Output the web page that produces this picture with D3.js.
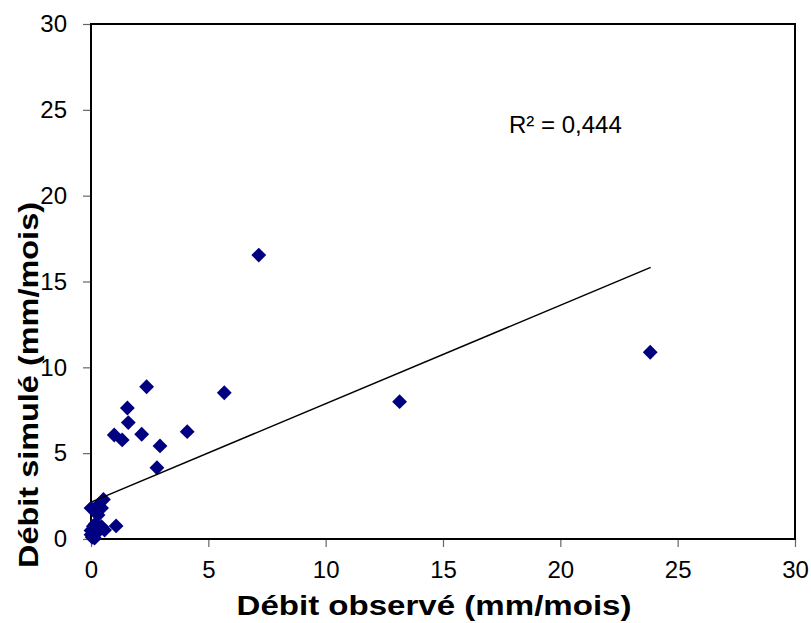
<!DOCTYPE html>
<html>
<head>
<meta charset="utf-8">
<script src="https://cdn.jsdelivr.net/npm/d3@7"></script>
<style>
  body { margin: 0; background: #fff; }
  text { font-family: Arial, "Liberation Sans", sans-serif; }
</style>
</head>
<body>
<svg id="chart" width="811" height="623"></svg>
<script>
// observed vs simulated monthly discharge (mm/mois)
const observed = [7.15, 23.83, 13.15, 2.37, 5.68, 1.55, 1.59, 0.99, 1.33, 2.16, 4.10, 2.94, 2.81, 1.07,
  0.0, 0.25, 0.45, 0.53, 0.3, 0.1, 0.45, 0.58, 0.3, 0.0, 0.15, 0.0, 0.2, 0.05];
const simulated = [16.54, 10.88, 8.0, 8.87, 8.52, 7.63, 6.78, 6.06, 5.77, 6.10, 6.25, 5.42, 4.15, 0.76,
  1.8, 1.9, 1.8, 2.3, 1.4, 0.75, 0.72, 0.52, 0.43, 0.25, 0.05, 0.5, 0.9, 0.1];

// linear trendline (as drawn by the spreadsheet)
const trendX = [0, 23.85];
const trendY = [2.15, 15.82];

const xTicks = [0, 5, 10, 15, 20, 25, 30];
const yTicks = [0, 5, 10, 15, 20, 25, 30];
const r2Label = 'R² = 0,444';

const svg = d3.select('#chart');
const margin = { left: 91, top: 24, right: 16, bottom: 84 };
const width = +svg.attr('width');
const height = +svg.attr('height');

const x = d3.scaleLinear().domain([0, 30]).range([margin.left, width - margin.right]);
const y = d3.scaleLinear().domain([0, 30]).range([height - margin.bottom, margin.top]);

const navy = '#000080';

const xAxis = svg.append('g')
  .attr('transform', `translate(0,${y(0)})`)
  .call(d3.axisBottom(x).tickValues(xTicks).tickSize(8).tickPadding(14));
const yAxis = svg.append('g')
  .attr('transform', `translate(${x(0)},0)`)
  .call(d3.axisLeft(y).tickValues(yTicks).tickSize(8).tickPadding(16));

[xAxis, yAxis].forEach(ax => {
  ax.select('.domain').remove();
  ax.selectAll('line').attr('stroke', '#666').attr('stroke-width', 1.2);
  ax.selectAll('text')
    .attr('fill', '#000')
    .style('font-size', '24px');
});

// plot area frame
svg.append('rect')
  .attr('x', x(0))
  .attr('y', y(30))
  .attr('width', x(30) - x(0))
  .attr('height', y(0) - y(30))
  .attr('fill', 'none')
  .attr('stroke', '#000')
  .attr('stroke-width', 2);

const points = observed.map((d, i) => [d, simulated[i]]);

svg.append('g')
  .selectAll('path')
  .data(points)
  .join('path')
  .attr('d', d3.symbol(d3.symbolSquare, 110))
  .attr('transform', d => `translate(${x(d[0])},${y(d[1])}) rotate(45)`)
  .attr('fill', navy);

svg.append('line')
  .attr('x1', x(trendX[0]))
  .attr('y1', y(trendY[0]))
  .attr('x2', x(trendX[1]))
  .attr('y2', y(trendY[1]))
  .attr('stroke', '#000')
  .attr('stroke-width', 1.5);

svg.append('text')
  .attr('x', 509)
  .attr('y', 133)
  .style('font-size', '24px')
  .text(r2Label);

svg.append('text')
  .attr('x', 434)
  .attr('y', 615)
  .attr('text-anchor', 'middle')
  .attr('textLength', 395)
  .attr('lengthAdjust', 'spacingAndGlyphs')
  .style('font-size', '28px')
  .style('font-weight', 'bold')
  .text('Débit observé (mm/mois)');

svg.append('text')
  .attr('transform', 'translate(38,385) rotate(-90)')
  .attr('text-anchor', 'middle')
  .attr('textLength', 366)
  .attr('lengthAdjust', 'spacingAndGlyphs')
  .style('font-size', '28px')
  .style('font-weight', 'bold')
  .text('Débit simulé (mm/mois)');
</script>
</body>
</html>
